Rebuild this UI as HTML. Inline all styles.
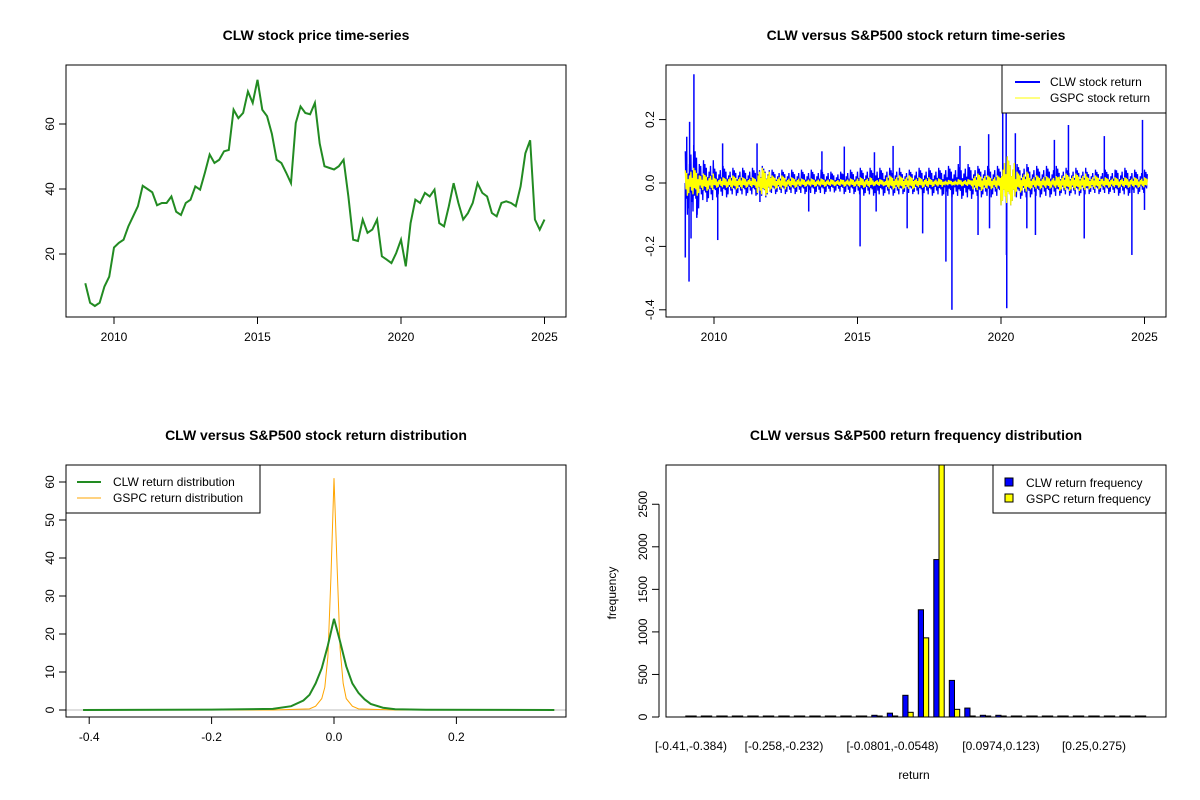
<!DOCTYPE html>
<html><head><meta charset="utf-8">
<style>
body{margin:0;background:#fff;}
svg{display:block;font-family:"Liberation Sans",Arial,sans-serif;}
.t{font-weight:bold;font-size:14px;text-anchor:middle;}
.tk{font-size:12px;}
</style></head>
<body>
<svg id="s" width="1200" height="800" viewBox="0 0 1200 800">
<rect width="1200" height="800" fill="#fff"/>
<text class="t" x="316" y="40">CLW stock price time-series</text>
<text class="t" x="916" y="40">CLW versus S&amp;P500 stock return time-series</text>
<text class="t" x="316" y="440">CLW versus S&amp;P500 stock return distribution</text>
<text class="t" x="916" y="440">CLW versus S&amp;P500 return frequency distribution</text>
<g id="g1"></g>
<g id="g2"></g>
<g id="g3"></g>
<g id="g4"></g>
</svg>
<script>
// ---- Panel 1 data: CLW price, every 2 months from 2009.0
const priceStart = 2009.0;
const priceStep = 1/6;
const priceValues = [11,5,4,5,10,13, 22,23.4,24.4,28.5,31.6,34.7, 41,40,39,35,35.7,35.7, 37.7,33,32,35.7,36.7,40.8,
 39.8,45,50.6,48,49,51.6, 52,64.4,61.8,63.4,70,66.5, 73.6,64.4,62.4,57,49,48, 45,41.8,60.3,65.4,63.4,63,
 66.5,54,47,46.5,46,47, 49,37.7,24.4,24,30.6,26.5, 27.5,30.6,19.3,18.3,17.2,20.3, 24.4,16.2,29.5,36.7,35.7,38.8,
 37.7,39.8,29.5,28.5,34.7,41.8, 35.7,30.6,32.6,35.7,41.8,38.8, 37.7,32.6,31.6,35.7,36.2,35.7, 34.7,40.8,51,55,30.6,27.5, 30.6];
const priceYTicks = [20,40,60];
const yearTicks = [2010,2015,2020,2025];
// ---- Panel 2 data: return spikes and volatility band (per half-year)
const clwSpikeDates = [2009.0,2009.05,2009.13,2009.15,2009.3,2009.2,2009.4,2010.13,2010.3,2011.5,2011.6,2013.3,2013.76,2014.54,2015.09,2015.59,2015.65,2016.24,2016.73,2017.27,2018.08,2018.29,2018.57,2019.2,2019.57,2019.6,2020.06,2020.18,2020.2,2020.19,2020.5,2020.9,2021.2,2021.86,2022.35,2022.9,2023.6,2024.56,2024.93,2025.0];
const clwSpikeValues = [-0.235,0.146,-0.311,0.193,0.343,-0.175,-0.11,-0.18,0.125,0.125,-0.06,-0.09,0.10,0.115,-0.2,0.097,-0.09,0.117,-0.143,-0.159,-0.248,-0.40,0.117,-0.164,0.154,-0.143,0.225,0.22,-0.395,-0.227,0.157,-0.143,-0.164,0.136,0.183,-0.175,0.148,-0.227,0.199,-0.085];
const bandStart = 2009.0;
const clwBand = [0.1,0.06,0.045,0.04,0.04,0.045,0.035,0.035,0.035,0.035,0.03,0.035,0.04,0.04,0.04,0.035,0.04,0.04,0.045,0.05,0.045,0.045,0.07,0.05,0.045,0.045,0.04,0.04,0.035,0.035,0.04,0.035,0.035];
const gspcBand = [0.04,0.025,0.015,0.02,0.015,0.04,0.02,0.015,0.012,0.012,0.01,0.012,0.015,0.01,0.02,0.02,0.015,0.012,0.008,0.01,0.025,0.02,0.07,0.03,0.02,0.018,0.025,0.025,0.02,0.015,0.015,0.015,0.015];
const returnYTicks = [-0.4,-0.2,0.0,0.2];
// ---- Panel 3 data: densities
const clwDensX = [-0.41,-0.2,-0.1,-0.07,-0.05,-0.04,-0.03,-0.02,-0.01,0,0.01,0.02,0.03,0.04,0.05,0.06,0.08,0.1,0.15,0.36];
const clwDensY = [0,0.1,0.3,1,2.5,4,7,11,17,24,18,11.5,7,4.5,2.8,1.6,0.6,0.2,0.05,0];
const gspcDensX = [-0.41,-0.1,-0.04,-0.03,-0.02,-0.015,-0.01,-0.005,0,0.005,0.01,0.015,0.02,0.03,0.04,0.1,0.36];
const gspcDensY = [0,0,0.3,1,3,6,14,35,61,38,16,7,3,1,0.3,0,0];
const densXTicks = [-0.4,-0.2,0.0,0.2];
const densYTicks = [0,10,20,30,40,50,60];
// ---- Panel 4 data: histogram counts (30 bins)
const binLabels = ["[-0.41,-0.384)","[-0.258,-0.232)","[-0.0801,-0.0548)","[0.0974,0.123)","[0.25,0.275)"];
const binLabelIdx = [0,6,13,20,26];
const clwCounts = [1,1,1,1,1,1,8,1,8,8,8,8,20,45,255,1260,1850,430,105,20,20,10,8,1,8,8,1,1,1,1];
const gspcCounts = [0,0,0,0,0,0,0,0,0,0,0,0,2,10,55,930,3400,90,10,2,1,0,0,0,0,0,0,0,0,0];
const freqTicks = [0,500,1000,1500,2000,2500];

const NS="http://www.w3.org/2000/svg";
function mk(par,tag,attrs,name){const e=document.createElementNS(NS,tag);for(const k in attrs)e.setAttribute(k,attrs[k]);


par.appendChild(e);return e;}
function txt(par,x,y,s,name,rot,anchor){const e=mk(par,'text',{x:x,y:y,'font-size':12,'text-anchor':anchor||'middle'},name);
if(rot)e.setAttribute('transform','rotate(-90 '+x+' '+y+')');e.textContent=s;return e;}
function box(par,x0,y0,x1,y1,name){mk(par,'rect',{x:x0,y:y0,width:x1-x0,height:y1-y0,fill:'none',stroke:'#000','stroke-width':1},name);}
function xaxis(par,ticks,X,y,fmt,name){mk(par,'line',{x1:X(ticks[0]),x2:X(ticks[ticks.length-1]),y1:y,y2:y,stroke:'#000'},name+'-line');
ticks.forEach(t=>{mk(par,'line',{x1:X(t),x2:X(t),y1:y,y2:y+7,stroke:'#000'},name+'-tick');txt(par,X(t),y+24,fmt(t),name+'-label');});}
function yaxis(par,ticks,Y,x,fmt,name){mk(par,'line',{y1:Y(ticks[0]),y2:Y(ticks[ticks.length-1]),x1:x,x2:x,stroke:'#000'},name+'-line');
ticks.forEach(t=>{mk(par,'line',{y1:Y(t),y2:Y(t),x1:x,x2:x-7,stroke:'#000'},name+'-tick');txt(par,x-12,Y(t),fmt(t),name+'-label',true);});}

// Panel 1
const g1=document.getElementById('g1');
const X1=y=>114+(y-2010)*28.7, Y1=p=>254-(p-20)*3.25;
mk(g1,'polyline',{points:priceValues.map((v,i)=>X1(priceStart+i*priceStep)+','+Y1(v)).join(' '),fill:'none',stroke:'#228b22','stroke-width':2},'clw-price-line');
box(g1,66,65,566,317,'price-plot-box');
xaxis(g1,yearTicks,X1,317,t=>t,'price-x-axis');
yaxis(g1,priceYTicks,Y1,66,t=>t,'price-y-axis');

// Panel 2
const g2=document.getElementById('g2');
const X2=y=>714+(y-2010)*28.7, Y2=r=>183-r*317;
const pat=[1,-0.5,0.8,-1,0.3,-0.8,0.6,-0.3,0.9,-0.6,0.4,-0.9,1.2,-0.4];
function band(arr,color,name,w){let pts=[];const x0=X2(bandStart),x1=X2(2025.1);
for(let x=x0,i=0;x<=x1;x+=0.7,i++){const yr=bandStart+(x-x0)/28.7;const a=arr[Math.min(arr.length-1,Math.floor((yr-bandStart)*2))];pts.push(x.toFixed(1)+','+Y2(a*pat[i%pat.length]).toFixed(1));}
mk(g2,'polyline',{points:pts.join(' '),fill:'none',stroke:color,'stroke-width':w},name);}
band(clwBand,'#0000ff','clw-return-band',1.3);
clwSpikeDates.forEach((d,i)=>{mk(g2,'line',{x1:X2(d),x2:X2(d),y1:Y2(0),y2:Y2(clwSpikeValues[i]),stroke:'#0000ff','stroke-width':1.5},'clw-return-spike');});
band(gspcBand,'#ffff00','gspc-return-band',1.3);
box(g2,666,65,1166,317,'return-plot-box');
xaxis(g2,yearTicks,X2,317,t=>t,'return-x-axis');
yaxis(g2,returnYTicks,Y2,666,t=>t.toFixed(1),'return-y-axis');
mk(g2,'rect',{x:1002,y:65,width:164,height:48,fill:'#fff',stroke:'#000'},'return-legend-box');
mk(g2,'line',{x1:1015,x2:1040,y1:82,y2:82,stroke:'#0000ff','stroke-width':2},'legend-clw-line');
txt(g2,1050,86,'CLW stock return','legend-clw-label',false,'start');
mk(g2,'line',{x1:1015,x2:1040,y1:98,y2:98,stroke:'#ffff00','stroke-width':1},'legend-gspc-line');
txt(g2,1050,102,'GSPC stock return','legend-gspc-label',false,'start');

// Panel 3
const g3=document.getElementById('g3');
const X3=r=>334+r*612, Y3=d=>710-d*3.8;
mk(g3,'line',{x1:66,x2:566,y1:Y3(0),y2:Y3(0),stroke:'#bebebe'},'density-zero-line');
mk(g3,'polyline',{points:gspcDensX.map((x,i)=>X3(x)+','+Y3(gspcDensY[i])).join(' '),fill:'none',stroke:'#ffa500','stroke-width':1},'gspc-density-line');
mk(g3,'polyline',{points:clwDensX.map((x,i)=>X3(x)+','+Y3(clwDensY[i])).join(' '),fill:'none',stroke:'#228b22','stroke-width':2},'clw-density-line');
box(g3,66,465,566,717,'density-plot-box');
xaxis(g3,densXTicks,X3,717,t=>t.toFixed(1),'density-x-axis');
yaxis(g3,densYTicks,Y3,66,t=>t,'density-y-axis');
mk(g3,'rect',{x:66,y:465,width:194,height:48,fill:'#fff',stroke:'#000'},'density-legend-box');
mk(g3,'line',{x1:77,x2:101,y1:482,y2:482,stroke:'#228b22','stroke-width':2},'legend-clw-density-line');
txt(g3,113,486,'CLW return distribution','legend-clw-density-label',false,'start');
mk(g3,'line',{x1:77,x2:101,y1:498,y2:498,stroke:'#ffa500','stroke-width':1},'legend-gspc-density-line');
txt(g3,113,502,'GSPC return distribution','legend-gspc-density-label',false,'start');

// Panel 4
const g4=document.getElementById('g4');
const CX=i=>691+i*15.5, Y4=f=>Math.max(465,717-f*0.0851);
function bar(x,c,fill,name){const y=Math.min(Y4(c),716);mk(g4,'rect',{x:x,y:y,width:5.2,height:717-y,fill:fill,stroke:'#000','stroke-width':1},name);}
clwCounts.forEach((c,i)=>bar(CX(i)-5.2,c,'#0000ff','clw-freq-bar'));
gspcCounts.forEach((c,i)=>bar(CX(i),c,'#ffff00','gspc-freq-bar'));
box(g4,666,465,1166,717,'histogram-plot-box');
yaxis(g4,freqTicks,f=>717-f*0.0851,659,t=>t,'freq-y-axis');
binLabelIdx.forEach((k,i)=>txt(g4,CX(k),750,binLabels[i],'bin-label'));
txt(g4,914,779,'return','histogram-x-title');
txt(g4,616,593,'frequency','histogram-y-title',true);
mk(g4,'rect',{x:993,y:465,width:173,height:48,fill:'#fff',stroke:'#000'},'histogram-legend-box');
mk(g4,'rect',{x:1005,y:478,width:8,height:8,fill:'#0000ff',stroke:'#000'},'legend-clw-freq-swatch');
txt(g4,1026,487,'CLW return frequency','legend-clw-freq-label',false,'start');
mk(g4,'rect',{x:1005,y:494,width:8,height:8,fill:'#ffff00',stroke:'#000'},'legend-gspc-freq-swatch');
txt(g4,1026,503,'GSPC return frequency','legend-gspc-freq-label',false,'start');
</script>
</body></html>
